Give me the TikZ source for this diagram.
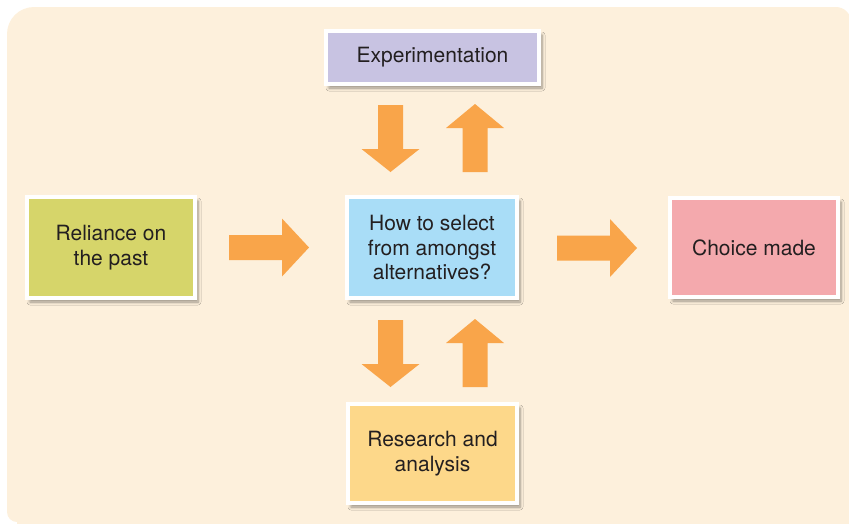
\documentclass[tikz,border=0pt]{standalone}
\usepackage{fontspec}
\setmainfont{TeX Gyre Heros}
\usetikzlibrary{shadows.blur}
\definecolor{bgcol}{HTML}{FDF0DC}
\definecolor{arrowcol}{HTML}{F9A54A}
\definecolor{expcol}{HTML}{C8C3E2}
\definecolor{relcol}{HTML}{D6D56A}
\definecolor{midcol}{HTML}{A9DDF7}
\definecolor{chocol}{HTML}{F4A9AD}
\definecolor{rescol}{HTML}{FDD88A}
\definecolor{txtcol}{HTML}{231F20}
\definecolor{shadcol}{HTML}{8C7E6E}
\tikzset{
  box/.style={draw=white, line width=4pt, inner sep=0pt, align=center,
    text=txtcol, font=\fontsize{21}{24.5}\selectfont,
    blur shadow={shadow xshift=3pt, shadow yshift=-4pt, shadow blur radius=3pt,
      shadow blur steps=6, shadow opacity=40, shadow blur extra rounding=0pt}},
  pics/barrow/.style args={#1/#2}{code={
    \fill[arrowcol] (0,-12.5) -- ({#1-#2},-12.5) -- ({#1-#2},-29) -- (#1,0)
      -- ({#1-#2},29) -- ({#1-#2},12.5) -- (0,12.5) -- cycle;}}
}
\begin{document}
\begin{tikzpicture}[x=1pt,y=-1pt]
\useasboundingbox (0,0) rectangle (849,523);
\fill[bgcol] (7,512) -- (7,34) arc[start angle=180, end angle=270, radius=27]
  -- (836,7) arc[start angle=270, end angle=360, radius=15]
  -- (851,530) -- (17,530) -- (17,522) arc[start angle=90, end angle=180, radius=10] -- cycle;
\node[box, fill=expcol, minimum width=213pt, minimum height=53pt] (exp) at (432.5,57.5) {Experimentation};
\node[box, fill=relcol, minimum width=168pt, minimum height=101pt] (rel) at (111,247.5) {Reliance on\\the past};
\node[box, fill=midcol, minimum width=170pt, minimum height=101pt] (mid) at (432,247.5) {How to select\\from amongst\\alternatives?};
\node[box, fill=chocol, minimum width=168pt, minimum height=99pt] (cho) at (754,247.5) {Choice made};
\node[box, fill=rescol, minimum width=169pt, minimum height=99pt] (res) at (432.5,453.5) {Research and\\analysis};
\pic[rotate=-90] at (390.5,105) {barrow={67/23}};
\pic[rotate=90] at (475,172) {barrow={68/24}};
\pic[rotate=-90] at (390.5,320) {barrow={67/23}};
\pic[rotate=90] at (475,387) {barrow={68/24}};
\pic at (229,247.5) {barrow={80/27}};
\pic at (557,248) {barrow={80/27}};
\end{tikzpicture}
\end{document}
